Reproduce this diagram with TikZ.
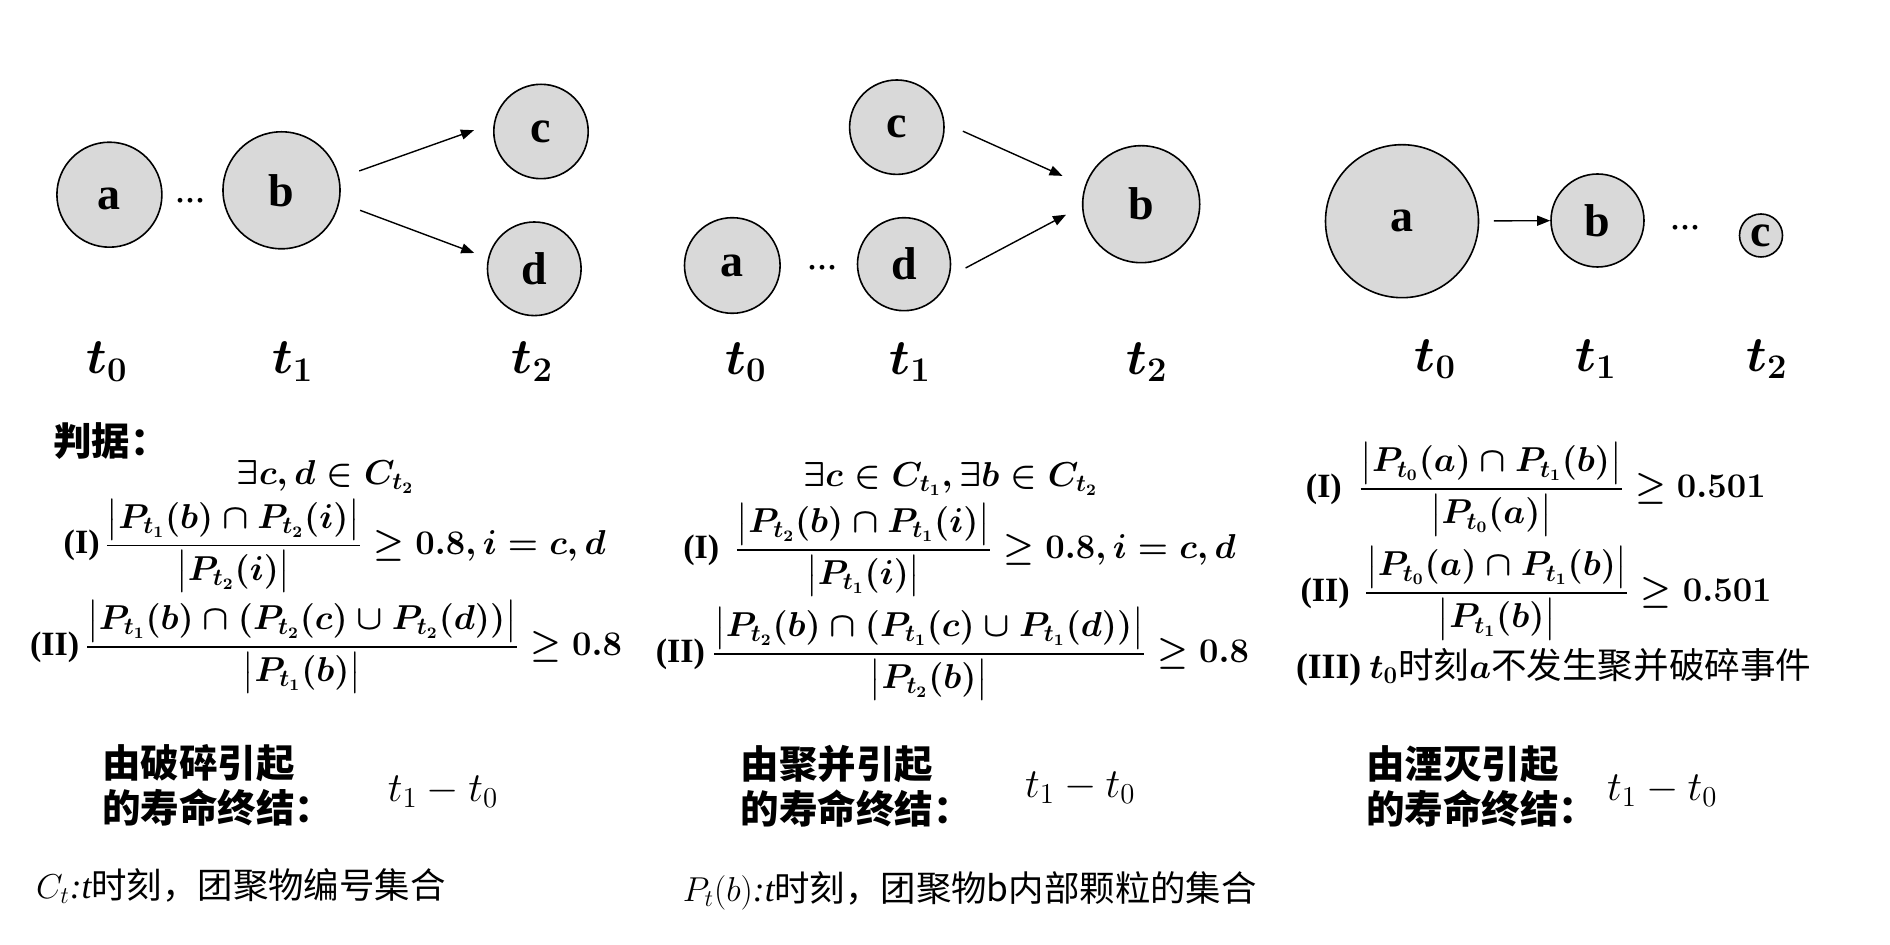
\documentclass[tikz,border=0pt]{standalone}
\usepackage{amsmath}
\usepackage{fontspec}
\usetikzlibrary{arrows.meta,calc}
\newfontfamily\cjk{Noto Sans CJK SC}
\newfontfamily\tnr{Liberation Serif}
\definecolor{blobfill}{RGB}{217,217,217}
\tikzset{
 blob/.style={circle, draw=black, line width=0.8pt, fill=blobfill, inner sep=0pt, font=\tnr\bfseries\fontsize{23}{26}\selectfont},
 arr/.style={-{Triangle[length=6.5pt,width=5pt]}, line width=0.7pt},
 tlab/.style={font=\fontsize{23}{26}\selectfont\boldmath, inner sep=0pt},
 dotsn/.style={font=\tnr\fontsize{20}{24}\selectfont, inner sep=0pt},
 rlab/.style={font=\tnr\bfseries\fontsize{17}{20}\selectfont, inner sep=0pt, anchor=east},
 fml/.style={font=\fontsize{17}{20}\selectfont\boldmath, inner sep=0pt, anchor=base west},
 fmlc/.style={font=\fontsize{17}{20}\selectfont\boldmath, inner sep=0pt},
 title/.style={font=\cjk\bfseries\fontsize{19.25}{22.5}\selectfont, align=left, inner sep=0pt, anchor=west},
 diff/.style={font=\fontsize{22}{26}\selectfont, inner sep=0pt, anchor=west},
 note/.style={font=\cjk\fontsize{17.7}{20}\selectfont, inner sep=0pt, anchor=west},
 crit/.style={font=\cjk\fontsize{17.8}{20}\selectfont, inner sep=0pt, anchor=west},
}
\begin{document}
\begin{tikzpicture}[x=0.5pt,y=-0.5pt]
\useasboundingbox (0,0) rectangle (1890,945);

% ---------- panel 1 ----------
\node[blob, minimum size=52.5pt, text height=15pt, text depth=0pt] (p1a) at (109.4,194.7) {a};
\node[blob, minimum size=58.5pt] (p1b) at (281.5,190.3) {b};
\node[blob, minimum size=47.2pt] (p1c) at (541,131.5) {c};
\node[blob, minimum size=46.8pt] (p1d) at (534.3,268.8) {d};
\node[dotsn] (p1dots) at (190,201) {...};
\draw[arr, shorten <=10.5pt, shorten >=10.5pt] (p1b.12) -- (p1c.170);
\draw[arr, shorten <=11pt, shorten >=7.3pt] (p1b.-12) -- (p1d.167);
\node[tlab] (p1t0) at (107,361.5) {$t_0$};
\node[tlab] (p1t1) at (292.7,361.5) {$t_1$};
\node[tlab] (p1t2) at (532.5,361.5) {$t_2$};

% ---------- panel 2 ----------
\node[blob, minimum size=47.8pt] (p2a) at (732.3,265.5) {a};
\node[blob, minimum size=47.2pt] (p2c) at (896.8,127.2) {c};
\node[blob, minimum size=46.5pt] (p2d) at (904,264.2) {d};
\node[blob, minimum size=58.5pt] (p2b) at (1141.2,204.2) {b};
\node[dotsn] (p2dots) at (822,268) {...};
\draw[arr, shorten <=10pt, shorten >=12.2pt] (p2c.5) -- (p2b.162);
\draw[arr, shorten <=9pt, shorten >=9pt] (p2d.-15) -- (p2b.182);
\node[tlab] (p2t0) at (746,362) {$t_0$};
\node[tlab] (p2t1) at (910.3,362) {$t_1$};
\node[tlab] (p2t2) at (1147,362) {$t_2$};

% ---------- panel 3 ----------
\node[blob, minimum size=76.5pt] (p3a) at (1402,221.2) {a};
\node[blob, minimum size=46.5pt] (p3b) at (1597.5,220.5) {b};
\node[blob, minimum size=21.5pt] (p3c) at (1761,235.5) {c};
\node[dotsn] (p3dots) at (1685,228) {...};
\draw[arr, shorten <=7.3pt] (p3a) -- (p3b);
\node[tlab] (p3t0) at (1435.5,359) {$t_0$};
\node[tlab] (p3t1) at (1596,359) {$t_1$};
\node[tlab] (p3t2) at (1767,359) {$t_2$};

% ---------- criteria ----------
\node[title] (judge) at (53,441) {判据：};

\node[fmlc] (p1ex) at (325.5,477) {$\exists c,d\in C_{t_2}$};
\node[rlab] (p1r1) at (100,545.7) {(I)};
\node[fml] (p1f1) at (104,554.2) {$\displaystyle\frac{\bigl|P_{t_1}(b)\cap P_{t_2}(i)\bigr|}{\bigl|P_{t_2}(i)\bigr|}\geq 0.8, i=c,d$};
\node[rlab] (p1r2) at (79.6,647) {(II)};
\node[fml] (p1f2) at (84.5,655.5) {$\displaystyle\frac{\bigl|P_{t_1}(b)\cap\left(P_{t_2}(c)\cup P_{t_2}(d)\right)\bigr|}{\bigl|P_{t_1}(b)\bigr|}\geq 0.8$};

\node[fmlc] (p2ex) at (950.6,479) {$\exists c\in C_{t_1},\exists b\in C_{t_2}$};
\node[rlab] (p2r1) at (719.6,550) {(I)};
\node[fml] (p2f1) at (734,558.5) {$\displaystyle\frac{\bigl|P_{t_2}(b)\cap P_{t_1}(i)\bigr|}{\bigl|P_{t_1}(i)\bigr|}\geq 0.8, i=c,d$};
\node[rlab] (p2r2) at (705.3,654) {(II)};
\node[fml] (p2f2) at (711.5,662.5) {$\displaystyle\frac{\bigl|P_{t_2}(b)\cap\left(P_{t_1}(c)\cup P_{t_1}(d)\right)\bigr|}{\bigl|P_{t_2}(b)\bigr|}\geq 0.8$};

\node[rlab] (p3r1) at (1342.2,489.3) {(I)};
\node[fml] (p3f1) at (1357.7,497.8) {$\displaystyle\frac{\bigl|P_{t_0}(a)\cap P_{t_1}(b)\bigr|}{\bigl|P_{t_0}(a)\bigr|}\geq 0.501$};
\node[rlab] (p3r2) at (1350,593.3) {(II)};
\node[fml] (p3f2) at (1363.6,601.8) {$\displaystyle\frac{\bigl|P_{t_0}(a)\cap P_{t_1}(b)\bigr|}{\bigl|P_{t_1}(b)\bigr|}\geq 0.501$};
\node[crit] (p3r3) at (1295.6,667) {{\tnr\bfseries (III)} {\boldmath$t_0$}时刻{\boldmath$a$}不发生聚并破碎事件};

% ---------- lifetime ends ----------
\node[title] (p1end) at (101.8,785.5) {由破碎引起\\的寿命终结：};
\node[diff] (p1dt) at (387.5,791.5) {$t_1-t_0$};
\node[title] (p2end) at (740.4,786) {由聚并引起\\的寿命终结：};
\node[diff] (p2dt) at (1024.8,788) {$t_1-t_0$};
\node[title] (p3end) at (1365.8,786) {由湮灭引起\\的寿命终结：};
\node[diff] (p3dt) at (1606.7,791) {$t_1-t_0$};

% ---------- notes ----------
\node[note] (n1) at (35.7,886) {$C_t${\tnr\itshape :t}时刻，团聚物编号集合};
\node[note] (n2) at (682.4,891) {$P_t(b)${\tnr\itshape :t}时刻，团聚物b内部颗粒的集合};
\end{tikzpicture}
\end{document}
